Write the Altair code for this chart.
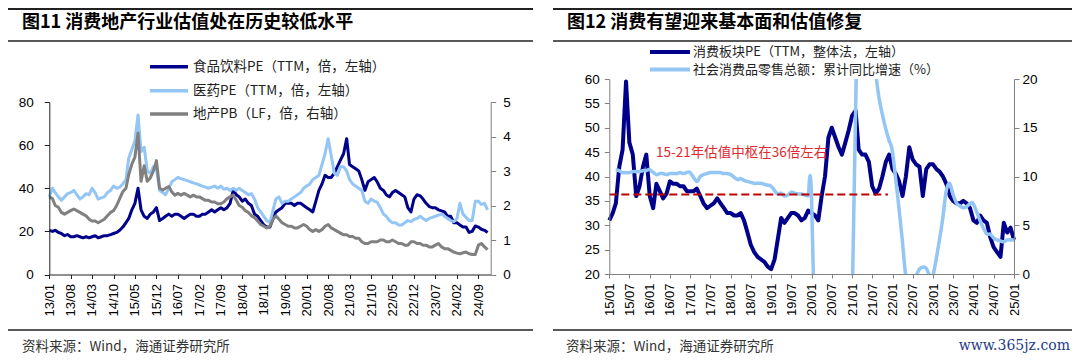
import altair as alt
import pandas as pd

CJK = "Noto Sans CJK SC"
LAT = "Liberation Sans"
NAVY = "#00008B"
LBLUE = "#93C6F5"
GRAY = "#808080"

# ---------------- Figure 11: monthly readings 2013-01 .. 2024-12 ----------------
left_first_month = "2013-01-01"
food_pe = [20.5, 20, 20.5, 19.5, 19, 18, 18.5, 17.5, 17.5, 18, 17.5, 17,
           17.5, 17, 17.5, 18, 17, 17.5, 18, 18, 18.5, 19, 19.5, 20.5,
           22, 24, 26, 30, 33, 40, 30, 27, 26, 28, 29, 31,
           25, 26, 27, 28, 27, 28, 28, 27, 26, 27, 28, 28,
           27, 27, 28, 28, 29, 30, 29, 30, 31, 30, 31, 33,
           39, 37, 36, 34, 35, 33, 32, 28, 27, 25, 23, 22,
           22, 26, 29, 30, 31, 33, 33, 33, 32, 33, 33, 32,
           31, 30, 29, 34, 39, 42, 46, 45, 45, 47, 50, 53,
           56, 63, 51, 50, 49, 48, 44, 39, 43, 44, 45, 43,
           40, 39, 37, 36, 38, 39, 38, 37, 36, 31, 29, 35,
           37, 36.5, 35, 33, 31.5, 31, 31, 30, 29.5, 29, 27, 27,
           24, 24, 23, 22, 22, 19.5, 20, 22.5, 22, 21, 20.5, 19.5]
med_pe = [36, 40, 38, 36, 34.5, 36, 37.5, 38, 39, 37, 35, 36,
          37.5, 37, 40, 38, 35, 35.5, 36, 38, 39, 41, 40, 40.5,
          42, 44, 54, 58, 62, 74, 57, 59, 48, 47, 50, 49,
          39, 38, 37, 40, 43, 44, 45, 44.5, 44, 43.5, 43, 42.5,
          42, 41.5, 41, 40.5, 40, 40.5, 41, 40, 41, 39.5, 40, 39,
          40, 39, 40, 39, 38, 37, 37.5, 35, 31, 29, 27, 25,
          24, 30, 35, 36, 33, 34, 34, 35, 36, 37, 38, 40,
          41, 42, 44, 45, 46, 51, 56, 63, 55, 47, 46, 50,
          50, 48, 44, 42, 41, 40, 39, 34, 33, 35, 34, 33.5,
          31, 28, 27, 25, 24, 24, 23, 23, 24, 25, 24.5, 25.5,
          26, 27, 26, 25, 26, 26.5, 27, 27.5, 28, 27, 26, 25,
          24.5, 26, 33, 28, 26.5, 25, 25, 34, 34, 32.5, 33, 30]
prop_pb = [2.25, 2.2, 2.0, 1.95, 1.8, 1.75, 1.8, 1.85, 1.9, 1.85, 1.8, 1.75,
           1.7, 1.6, 1.55, 1.55, 1.5, 1.55, 1.6, 1.7, 1.8, 1.85, 2.0, 2.2,
           2.4, 2.5, 2.9, 3.2, 3.4, 4.1, 2.7, 3.15, 2.7, 2.8, 3.0, 3.3,
           2.5, 2.45, 2.5, 2.55, 2.4, 2.3, 2.35, 2.3, 2.35, 2.3, 2.25, 2.3,
           2.25, 2.25, 2.2, 2.15, 2.15, 2.1, 2.1, 2.05, 2.05, 2.1, 2.2, 2.25,
           2.3, 2.15, 2.0, 1.95, 1.85, 1.8, 1.7, 1.65, 1.55, 1.45, 1.4, 1.35,
           1.4, 1.6, 1.7, 1.6, 1.5, 1.45, 1.4, 1.4, 1.35, 1.35, 1.4, 1.45,
           1.4, 1.3, 1.25, 1.3, 1.25, 1.3, 1.4, 1.45, 1.35, 1.3, 1.25, 1.2,
           1.15, 1.15, 1.1, 1.1, 1.05, 1.05, 0.95, 0.9, 0.9, 0.95, 0.95, 0.95,
           1.0, 1.0, 0.95, 0.95, 1.0, 0.95, 0.9, 0.9, 0.85, 0.85, 0.95, 0.95,
           0.9, 0.9, 0.85, 0.85, 0.8, 0.8, 0.85, 0.9, 0.8, 0.75, 0.75, 0.7,
           0.65, 0.62, 0.6, 0.63, 0.65, 0.6, 0.58, 0.58, 0.85, 0.9, 0.8, 0.72]
left_ticks = ["13/01", "13/08", "14/03", "14/10", "15/05", "15/12", "16/07",
              "17/02", "17/09", "18/04", "18/11", "19/06", "20/01", "20/08",
              "21/03", "21/10", "22/05", "22/12", "23/07", "24/02", "24/09"]
left_end = "25/01"
left_pe_ticks = [0, 20, 40, 60, 80]
left_pb_ticks = [0, 1, 2, 3, 4, 5]

# ---------------- Figure 12 ----------------
right_first_month = "2015-01-01"
consumer_pe = [31, 32.5, 34.5, 42, 45.5, 59.5, 47, 44.5, 36, 38, 42, 44.5,
               36, 33.5, 38.5, 37, 35.5, 36.5, 39, 38.5, 38.5, 38, 38, 37,
               37, 37, 37.5, 36, 34.5, 33.5, 34, 34.5, 35.5, 34.5, 33.5, 32.5,
               32.5, 32, 32, 32.5, 31, 28.5, 26, 24.5, 23.5, 23, 22.5, 21.5,
               21, 23, 27, 31.5, 30.5, 31.5, 32.5, 32.5, 32, 31, 31.5, 33,
               32.5, 32, 31, 36, 40, 48, 50, 48, 46, 44.5, 47, 49.5,
               52.5, 53.5, 45.5, 44.5, 44.5, 43, 38, 36.5, 37.5, 40, 43, 44.5,
               41.5, 40.5, 39, 36, 40, 46, 43.5, 42.5, 42, 36, 41.5, 42.5,
               42.5, 41.5, 41, 40, 38.5, 36, 35, 34.5, 34.5, 35, 34.5, 33.5,
               31, 30.5, 32, 31, 30.5, 27.5, 25.5, 24.5, 23.5, 30.5, 28.5, 29.5,
               27]
retail_years = [2015, 2016, 2017, 2018, 2019, 2020, 2021, 2022, 2023, 2024]
retail_months = [2, 3, 4, 5, 6, 7, 8, 9, 10, 11, 12]
retail_2015 = [10.7, 10.6, 10.4, 10.4, 10.4, 10.5, 10.5, 10.5, 10.6, 10.6, 10.7]
retail_2016 = [10.2, 10.3, 10.3, 10.2, 10.3, 10.3, 10.3, 10.4, 10.3, 10.4, 10.4]
retail_2017 = [9.5, 10.0, 10.2, 10.3, 10.4, 10.4, 10.4, 10.4, 10.3, 10.3, 10.2]
retail_2018 = [9.7, 9.8, 9.6, 9.5, 9.4, 9.3, 9.3, 9.3, 9.2, 9.1, 9.0]
retail_2019 = [8.2, 8.3, 8.0, 8.1, 8.4, 8.3, 8.2, 8.2, 8.1, 8.0, 8.0]
retail_2020 = [-20.5, -19.0, -16.2, -13.5, -11.4, -9.9, -8.6, -7.2, -5.9, -4.8, -3.9]
retail_2021 = [33.8, 33.9, 29.6, 25.7, 23.0, 20.7, 18.1, 16.4, 14.9, 13.7, 12.5]
retail_2022 = [6.7, 3.3, -0.2, -1.5, -0.7, -0.2, 0.5, 0.7, 0.6, -0.1, -0.2]
retail_2023 = [3.5, 5.8, 8.5, 9.3, 8.2, 7.3, 7.0, 6.8, 6.9, 7.2, 7.2]
retail_2024 = [5.5, 4.7, 4.1, 4.1, 3.7, 3.5, 3.4, 3.3, 3.5, 3.5, 3.5]
retail_growth = [retail_2015, retail_2016, retail_2017, retail_2018, retail_2019,
                 retail_2020, retail_2021, retail_2022, retail_2023, retail_2024]
center_level = 36.3
center_start = "2015-01-01"
center_end = "2021-11-20"
right_ticks = ["15/01", "15/07", "16/01", "16/07", "17/01", "17/07", "18/01",
               "18/07", "19/01", "19/07", "20/01", "20/07", "21/01", "21/07",
               "22/01", "22/07", "23/01", "23/07", "24/01", "24/07", "25/01"]
right_pe_ticks = [20, 25, 30, 35, 40, 45, 50, 55, 60]
right_rt_ticks = [0, 5, 10, 15, 20]

# ---------------- texts ----------------
title_left = "图11 消费地产行业估值处在历史较低水平"
title_right = "图12 消费有望迎来基本面和估值修复"
legend_left = ["食品饮料PE（TTM，倍，左轴）", "医药PE（TTM，倍，左轴）", "地产PB（LF，倍，右轴）"]
legend_right = ["消费板块PE（TTM，整体法，左轴）", "社会消费品零售总额：累计同比增速（%）"]
note_text = "15-21年估值中枢在36倍左右"
source_text = "资料来源：Wind，海通证券研究所"
watermark = "www.365jz.com"

# ---------------- tables ----------------
df_left = pd.DataFrame({
    "date": pd.date_range(left_first_month, periods=len(food_pe), freq="MS"),
    "food": food_pe, "med": med_pe, "prop": prop_pb})
df_right = pd.DataFrame({
    "date": pd.date_range(right_first_month, periods=len(consumer_pe), freq="MS"),
    "pe": consumer_pe})
rows = []
for yr, vals in zip(retail_years, retail_growth):
    for mo, v in zip(retail_months, vals):
        rows.append({"date": pd.Period(f"{yr}-{mo:02d}", freq="M").end_time.normalize(), "g": v})
df_retail = pd.DataFrame(rows)
df_center = pd.DataFrame({"start": [pd.Timestamp(center_start)],
                          "end": [pd.Timestamp(center_end)], "level": [center_level]})
one = pd.DataFrame({"k": [0]})

# ---------------- layout (plot coordinates) ----------------
W, H = 1064, 347
LX0, LX1, LY0, LY1 = 41.3, 482.7, 266.5, 94.0
RX0, RX1, RY0, RY1 = 601.3, 1006.0, 266.0, 71.0


def dt(label):
    yy, mm = label.split("/")
    return alt.DateTime(year=2000 + int(yy), month=int(mm), date=1)


sx_l = alt.Scale(domain=[dt(left_ticks[0]), dt(left_end)], range=[LX0, LX1], nice=False)
sy_lpe = alt.Scale(domain=[0, 80], range=[LY0, LY1], nice=False)
sy_lpb = alt.Scale(domain=[0, 5], range=[LY0, LY1], nice=False)
sx_r = alt.Scale(domain=[dt(right_ticks[0]), dt(right_ticks[-1])], range=[RX0, RX1], nice=False)
sy_rpe = alt.Scale(domain=[20, 60], range=[RY0, RY1], nice=False)
sy_rrt = alt.Scale(domain=[0, 20], range=[RY0, RY1], nice=False)


def axis(orient, offset, values, color, tick=5, pad=4, angle=0, fmt=None, size=13.5):
    kw = dict(orient=orient, offset=offset, values=values, domainColor=color,
              tickColor=color, tickSize=tick, labelPadding=pad, labelFont=LAT,
              labelFontSize=size, labelColor="#000", grid=False, title=None,
              labelFlush=False, labelOverlap=False, zindex=1, domainWidth=1,
              tickWidth=1, labelAngle=angle)
    if fmt:
        kw["format"] = fmt
    return alt.Axis(**kw)


food = alt.Chart(df_left).mark_line(color=NAVY, strokeWidth=3, strokeJoin="round").encode(
    x=alt.X("date:T", scale=sx_l,
            axis=axis("bottom", LY0 - H, [dt(t) for t in left_ticks], "#222", tick=4, pad=5,
                      angle=270, fmt="%y/%m", size=13)),
    y=alt.Y("food:Q", scale=sy_lpe, axis=axis("left", -LX0, left_pe_ticks, "#222", pad=11)))
med = alt.Chart(df_left).mark_line(color=LBLUE, strokeWidth=3, strokeJoin="round").encode(
    x=alt.X("date:T", scale=sx_l, axis=None),
    y=alt.Y("med:Q", scale=sy_lpe, axis=None))
prop = alt.Chart(df_left).mark_line(color=GRAY, strokeWidth=3, strokeJoin="round").encode(
    x=alt.X("date:T", scale=sx_l, axis=None),
    y=alt.Y("prop:Q", scale=sy_lpb, axis=axis("right", LX1 - W, left_pb_ticks, GRAY, pad=7)))

cons = alt.Chart(df_right).mark_line(color=NAVY, strokeWidth=4, strokeJoin="round").encode(
    x=alt.X("date:T", scale=sx_r,
            axis=axis("bottom", RY0 - H, [dt(t) for t in right_ticks], GRAY, tick=4, pad=5,
                      angle=270, fmt="%y/%m", size=13)),
    y=alt.Y("pe:Q", scale=sy_rpe, axis=axis("left", -RX0, right_pe_ticks, GRAY, pad=5)))
retail = alt.Chart(df_retail).mark_line(color=LBLUE, strokeWidth=3.5, interpolate="cardinal").encode(
    x=alt.X("date:T", scale=sx_r, axis=None),
    y=alt.Y("g:Q", scale=sy_rrt, axis=axis("right", RX1 - W, right_rt_ticks, GRAY, pad=3)))
center = alt.Chart(df_center).mark_rule(color="#C00000", strokeWidth=2, strokeDash=[8, 4]).encode(
    x=alt.X("start:T", scale=sx_r, axis=None), x2="end:T",
    y=alt.Y("level:Q", scale=sy_rpe, axis=None))


def rect(x1, x2, y1, y2):
    return alt.Chart(one).mark_rect(color="white").encode(
        x=alt.value(x1), x2=alt.value(x2), y=alt.value(y1), y2=alt.value(y2))


def hline(x1, x2, y, color, w):
    return alt.Chart(one).mark_rule(color=color, strokeWidth=w).encode(
        x=alt.value(x1), x2=alt.value(x2), y=alt.value(y))


def txt(s, x, y, size=13.5, color="#222", weight="normal", align="left", font=CJK):
    return alt.Chart(one).mark_text(text=s, align=align, baseline="middle", fontSize=size,
                                    color=color, fontWeight=weight, font=font).encode(
        x=alt.value(x), y=alt.value(y))


masks = [rect(596, 1012, -5, RY1), rect(596, 1012, RY0, H + 5)]

deco = [
    txt(note_text, 648, 145, size=13.5, color="#E0282E"),
    # legends left
    hline(142, 180, 58.7, NAVY, 3.5), txt(legend_left[0], 185, 58.7),
    hline(142, 180, 82.7, LBLUE, 3.5), txt(legend_left[1], 185, 82.7),
    hline(142, 180, 106, GRAY, 3.5), txt(legend_left[2], 185, 106),
    # legends right
    hline(642, 682, 44, NAVY, 4), txt(legend_right[0], 685, 44, size=13),
    hline(642, 682, 61.5, LBLUE, 4), txt(legend_right[1], 685, 61.5, size=13),
    # headers
    hline(0, 525, 1, "#222", 2), hline(0, 525, 33, "#222", 1.6),
    hline(545, 1064, 1, "#222", 2), hline(545, 1064, 33, "#222", 1.6),
    txt(title_left, 14, 15, size=18, color="#000", weight="bold"),
    txt(title_right, 559, 15, size=18, color="#000", weight="bold"),
    # footers
    hline(0, 525, 322, "#222", 1.6), hline(545, 1064, 322, "#222", 1.6),
    txt(source_text, 14, 339, color="#333"),
    txt(source_text, 558, 339, color="#333"),
    txt(watermark, 1062, 338, size=14, color="#1F3B87", align="right", font="DejaVu Serif"),
]

chart = alt.layer(food, med, prop, cons, retail, center, *masks, *deco).resolve_scale(
    x="independent", y="independent"
).properties(
    width=W, height=H, padding=0,
    autosize=alt.AutoSizeParams(type="none"),
    background="white",
).configure_view(stroke="transparent")

chart.save("out.html", embed_options={"renderer": "svg", "actions": False})
